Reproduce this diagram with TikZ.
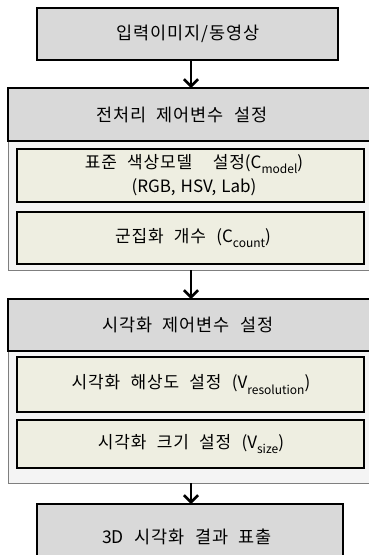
\documentclass[tikz,border=0pt]{standalone}
\usepackage{fontspec}
\setmainfont[LetterSpace=5,WordSpace=2.2]{Noto Sans CJK KR}
\newfontfamily\latinf[WordSpace=1.3]{Noto Sans CJK KR}
\usetikzlibrary{arrows.meta}
\definecolor{hdrgray}{HTML}{D9D9D9}
\definecolor{contgray}{HTML}{F4F4F4}
\definecolor{contline}{HTML}{7F7F7F}
\definecolor{innerfill}{HTML}{EEEEE1}
\newcommand\subtxt[1]{\raisebox{-0.3em}{\fontsize{12}{12}\selectfont #1}}
\tikzset{
  mainbox/.style={draw=black, line width=1.8pt, fill=hdrgray},
  contbox/.style={draw=contline, line width=0.8pt, fill=contgray},
  innerbox/.style={draw=black, line width=1.8pt, fill=innerfill},
  lbl/.style={font=\fontsize{17.5}{20}\selectfont, align=center, inner sep=0pt},
  ilbl/.style={font=\fontsize{17}{24}\selectfont, align=center, inner sep=0pt},
  flow/.style={line width=2.4pt, -{Straight Barb[length=7pt,width=14pt,line width=2.6pt]}}
}
\begin{document}
\begin{tikzpicture}[x=1pt,y=-1pt]
\useasboundingbox (0,0) rectangle (369,555);
\begin{scope}
\clip (0,0) rectangle (369,555);
% top input box
\draw[mainbox] (37,8) rectangle (338,60);
\node[lbl] (tin) at (188,34) {입력이미지/동영상};
% pre-processing group
\draw[contbox] (8,141) rectangle (380,270);
\draw[mainbox] (8,88) rectangle (380,141);
\node[lbl] (th1) at (182,115) {전처리 제어변수 설정};
\draw[innerbox] (17,149) rectangle (364,202);
\node[ilbl] (ti1) at (194,175.5) {표준 색상모델\ \ 설정{\latinf(C\subtxt{model})}\\{\latinf(RGB, HSV, Lab)}};
\draw[innerbox] (17,212) rectangle (364,264);
\node[ilbl] (ti2) at (193,238) {군집화 개수 {\latinf(C\subtxt{count})}};
% visualisation group
\draw[contbox] (8,351) rectangle (380,483);
\draw[mainbox] (8,299) rectangle (380,351);
\node[lbl] (th2) at (188,325) {시각화 제어변수 설정};
\draw[innerbox] (17,357) rectangle (364,412);
\node[ilbl] (ti3) at (191,384.5) {시각화 해상도 설정 {\latinf(V\subtxt{resolution})}};
\draw[innerbox] (17,420) rectangle (364,468);
\node[ilbl] (ti4) at (191,444) {시각화 크기 설정 {\latinf(V\subtxt{size})}};
% output box
\draw[mainbox] (37,504) rectangle (343,570);
\node[lbl] (tout) at (187,537) {{\latinf 3D} 시각화 결과 표출};
\end{scope}
% connector anchors
\coordinate (a1s) at (191,60);
\coordinate (a1e) at (191,88);
\coordinate (a2s) at (191,270);
\coordinate (a2e) at (191,299);
\coordinate (a3s) at (191,483);
\coordinate (a3e) at (191,504);
\draw[flow] (a1s) -- (a1e);
\draw[flow] (a2s) -- (a2e);
\draw[flow] (a3s) -- (a3e);
\end{tikzpicture}
\end{document}
